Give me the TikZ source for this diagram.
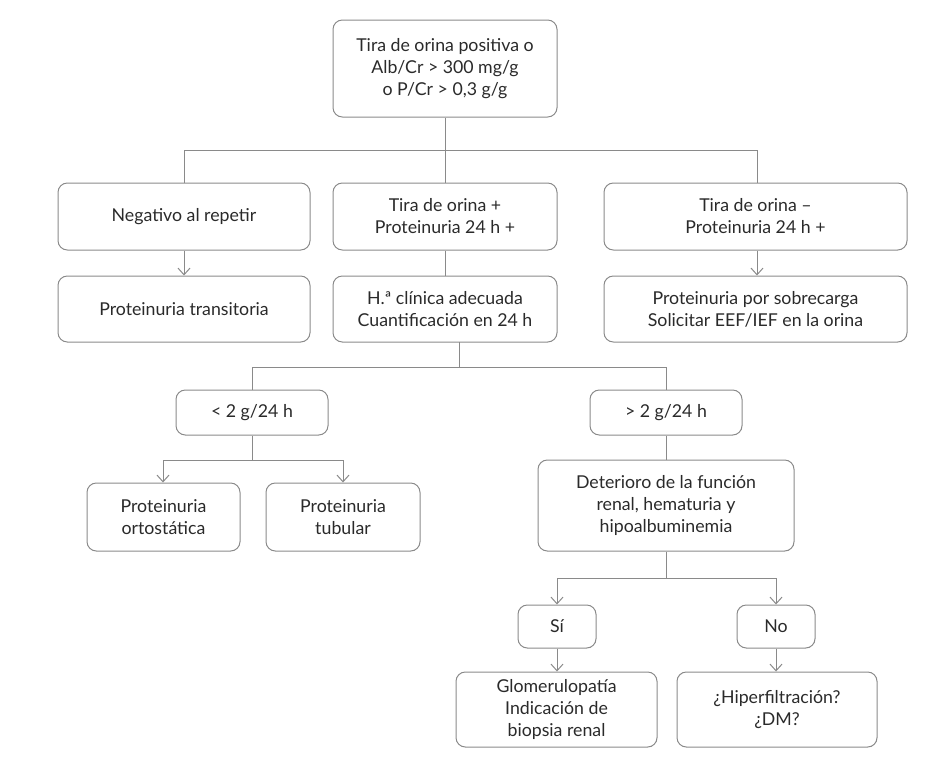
\documentclass[tikz,border=0pt]{standalone}
\usetikzlibrary{arrows.meta}
\usepackage{fontspec}
\setmainfont{Lato}
\begin{document}
\begin{tikzpicture}[x=0.75pt,y=-0.75pt,
  box/.style={draw=linec,line width=0.75pt,rounded corners=7pt,align=center,font=\fontsize{13.3}{16.5}\selectfont,text=textc,inner sep=0pt},
  ln/.style={draw=linec,line width=0.75pt},
  ar/.style={ln,-{Straight Barb[length=5pt,width=9pt]}}]
\definecolor{linec}{HTML}{8A8A8A}
\definecolor{textc}{HTML}{2A2A2A}
\useasboundingbox (0,0) rectangle (944,782);
\newcommand{\bx}[6]{\node[box,minimum width={(#4-#2)*0.75pt},minimum height={(#5-#3)*0.75pt}] (#1) at ({(#2+#4)/2},{(#3+#5)/2}) {#6};}
\bx{top}{333}{20}{557}{117}{Tira de orina positiva o\\Alb/Cr > 300 mg/g\\o P/Cr > 0,3 g/g}
\bx{neg}{58}{183}{310}{250}{Negativo al repetir}
\bx{tp}{333}{183}{557}{250}{Tira de orina +\\Proteinuria 24 h +}
\bx{tm}{604}{183}{907}{250}{Tira de orina –\\Proteinuria 24 h +}
\bx{tra}{58}{276}{310}{342}{Proteinuria transitoria}
\bx{hc}{333}{276}{557}{342}{H.ª clínica adecuada\\Cuantificación en 24 h}
\bx{sob}{604}{276}{907}{342}{Proteinuria por sobrecarga\\Solicitar EEF/IEF en la orina}
\bx{lt}{176}{390}{328}{435}{< 2 g/24 h}
\bx{gt}{590}{390}{742}{435}{> 2 g/24 h}
\bx{ort}{87}{483}{240}{551}{Proteinuria\\ortostática}
\bx{tub}{266}{483}{420}{551}{Proteinuria\\tubular}
\bx{det}{538}{460}{794}{551}{Deterioro de la función\\renal, hematuria y\\hipoalbuminemia}
\bx{si}{518}{605}{596}{648}{Sí}
\bx{no}{737}{605}{815}{648}{No}
\bx{glo}{456}{672}{657}{747}{Glomerulopatía\\Indicación de\\biopsia renal}
\bx{hip}{677}{672}{877}{747}{¿Hiperfiltración?\\¿DM?}
\coordinate (b1) at (445,150);
\draw[ln] (top.south) -- (b1);
\draw[ln] (184,183) -- (184,150) -- (757,150) -- (757,183);
\draw[ln] (b1) -- (tp.north);
\draw[ar] (neg.south -| 184,0) -- (tra.north -| 184,0);
\draw[ar] (tm.south -| 757,0) -- (sob.north -| 757,0);
\draw[ln] (tp.south) -- (hc.north);
\draw[ln] (459,342) -- (459,367);
\draw[ln] (lt.north -| 252,0) -- (252,367) -- (666,367) -- (gt.north -| 666,0);
\draw[ln] (lt.south) -- (252,460);
\draw[ar] (252,460) -- (343,460) -- (tub.north -| 343,0);
\draw[ar] (252,460) -- (163,460) -- (ort.north -| 163,0);
\draw[ln] (gt.south -| 666,0) -- (det.north -| 666,0);
\draw[ln] (det.south -| 666,0) -- (666,578);
\draw[ar] (666,578) -- (557,578) -- (si.north -| 557,0);
\draw[ar] (666,578) -- (776,578) -- (no.north -| 776,0);
\draw[ar] (si.south -| 557,0) -- (glo.north -| 557,0);
\draw[ar] (no.south -| 776,0) -- (hip.north -| 776,0);
\end{tikzpicture}
\end{document}
